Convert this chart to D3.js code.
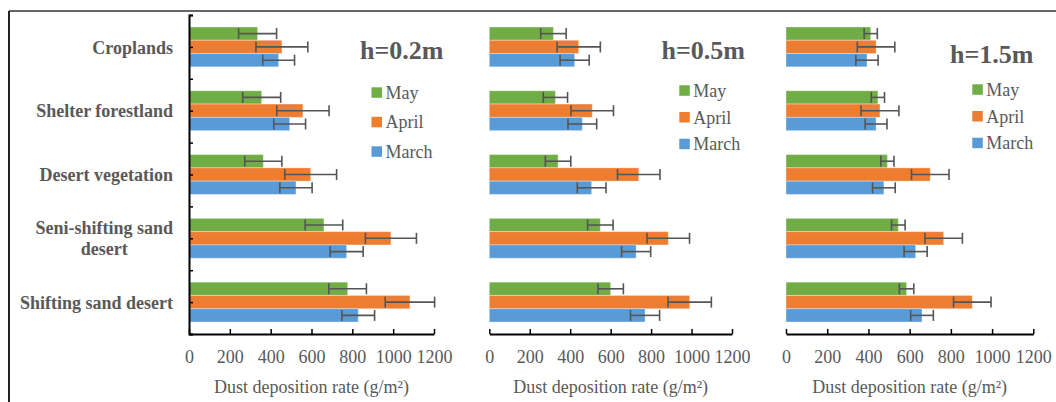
<!DOCTYPE html>
<html>
<head>
<meta charset="utf-8">
<script src="https://cdn.jsdelivr.net/npm/d3@7"></script>
<style>
  body { margin: 0; background: #fff; }
  text { font-family: "Liberation Serif", "Times New Roman", serif; }
</style>
</head>
<body>
<svg id="chart" width="1056" height="402"></svg>
<script>
  // data
  var categories = ["Croplands", "Shelter forestland", "Desert vegetation", "Seni-shifting sand desert", "Shifting sand desert"];
  var labelLines = [["Croplands"], ["Shelter forestland"], ["Desert vegetation"], ["Seni-shifting sand", "desert"], ["Shifting sand desert"]];
  var months  = ["May", "April", "March"];
  var heights = ["h=0.2m", "h=0.5m", "h=1.5m"];
  var xTicks  = [0, 200, 400, 600, 800, 1000, 1200];

  // h = 0.2 m
  var may02   = [336, 356, 364, 661, 777];
  var apr02   = [455, 558, 596, 989, 1082];
  var mar02   = [439, 493, 524, 772, 829];
  var may02E  = [93, 93, 91, 92, 92];
  var apr02E  = [127, 128, 127, 125, 121];
  var mar02E  = [78, 78, 79, 81, 80];
  // h = 0.5 m
  var may05   = [317, 327, 340, 549, 600];
  var apr05   = [442, 509, 739, 885, 991];
  var mar05   = [422, 460, 506, 726, 770];
  var may05E  = [63, 60, 63, 63, 63];
  var apr05E  = [107, 105, 105, 105, 107];
  var mar05E  = [72, 71, 71, 72, 72];
  // h = 1.5 m
  var may15   = [411, 446, 492, 545, 585];
  var apr15   = [437, 456, 700, 765, 904];
  var mar15   = [393, 437, 475, 629, 660];
  var may15E  = [32, 32, 32, 33, 35];
  var apr15E  = [91, 92, 91, 91, 91];
  var mar15E  = [54, 53, 55, 56, 55];

  var colr = {May: "#70AD47", April: "#ED7D31", March: "#5B9BD5"};
  var textCol = "#595959";
  var errCol  = "#555555";

  var panels = [
    {title: heights[0], x0: 189,   x1: 434,    yAxis: true,
     vals: {May: may02, April: apr02, March: mar02}, errs: {May: may02E, April: apr02E, March: mar02E},
     tx: 360, ty: 58.7, lx: 371.5, ly: 87.3, lgap: 29.5},
    {title: heights[1], x0: 489.3, x1: 732,    yAxis: false,
     vals: {May: may05, April: apr05, March: mar05}, errs: {May: may05E, April: apr05E, March: mar05E},
     tx: 661.5, ty: 59, lx: 679.3, ly: 85.3, lgap: 26.7},
    {title: heights[2], x0: 786,   x1: 1033.3, yAxis: false,
     vals: {May: may15, April: apr15, March: mar15}, errs: {May: may15E, April: apr15E, March: mar15E},
     tx: 950, ty: 63.3, lx: 972.3, ly: 84.3, lgap: 26.7}
  ];

  var chart = d3.select("#chart");
  var yTop = 15, yBottom = 334;

  // outer frame
  chart.append("line").attr("x1", 9).attr("y1", 11).attr("x2", 1056).attr("y2", 11)
       .style("stroke", "#333").style("stroke-width", 1.5);
  chart.append("line").attr("x1", 9).attr("y1", 11).attr("x2", 9).attr("y2", 402)
       .style("stroke", "#222").style("stroke-width", 2);

  var y = d3.scaleBand().domain(categories).range([yTop, yBottom]);
  var yInner = d3.scaleBand().domain(months).range([0, y.bandwidth()]).paddingOuter(0.9);

  // category labels
  labelLines.forEach(function(lines, i) {
    var cy = y(categories[i]) + y.bandwidth() / 2;
    var lh = 21;
    var t = chart.append("text").style("font-size", "18px").style("font-weight", "bold")
                 .style("fill", textCol).style("text-anchor", "middle");
    lines.forEach(function(s, k) {
      t.append("tspan").attr("y", cy + 6.6 + (k - (lines.length - 1) / 2) * lh).text(s);
    });
    var w = 0;
    t.selectAll("tspan").each(function() { w = Math.max(w, this.getComputedTextLength()); });
    t.selectAll("tspan").attr("x", 173 - w / 2);
  });

  panels.forEach(function(p) {
    var x = d3.scaleLinear().domain([0, 1200]).range([p.x0, p.x1]);
    var g = chart.append("g");

    // bars
    months.forEach(function(m) {
      var rows = categories.map(function(c, i) { return {c: c, v: p.vals[m][i], e: p.errs[m][i]}; });
      g.selectAll(".bar-" + m).data(rows).enter().append("rect")
        .attr("x", x(0))
        .attr("y", function(d) { return y(d.c) + yInner(m); })
        .attr("width", function(d) { return x(d.v) - x(0); })
        .attr("height", yInner.bandwidth())
        .style("fill", colr[m])
        .style("stroke", "#fff").style("stroke-opacity", 0.35).style("stroke-width", 1);

      // error bars
      rows.forEach(function(d) {
        var cy = y(d.c) + yInner(m) + yInner.bandwidth() / 2;
        var a = x(d.v - d.e), b = x(d.v + d.e);
        g.append("line").attr("x1", a).attr("x2", b).attr("y1", cy).attr("y2", cy)
         .style("stroke", errCol).style("stroke-width", 1.6);
        [a, b].forEach(function(xx) {
          g.append("line").attr("x1", xx).attr("x2", xx).attr("y1", cy - 5.5).attr("y2", cy + 5.5)
           .style("stroke", errCol).style("stroke-width", 1.6);
        });
      });
    });

    // x axis
    var xa = g.append("g").attr("transform", "translate(0," + yBottom + ")")
      .call(d3.axisBottom(x).tickValues(xTicks).tickFormat(d3.format("d"))
              .tickSizeInner(-5).tickSizeOuter(0).tickPadding(16));
    xa.select(".domain").style("stroke", "#000").style("stroke-width", 2);
    xa.selectAll(".tick line").style("stroke", "#000").style("stroke-width", 1.5);
    xa.selectAll(".tick text").style("font-size", "18px").style("fill", textCol)
      .style("font-family", "'Liberation Serif', serif");

    // y axis (first panel only)
    if (p.yAxis) {
      var yl = d3.scaleLinear().domain([0, 5]).range([yTop, yBottom]);
      var ya = g.append("g").attr("transform", "translate(" + x(0) + ",0)")
        .call(d3.axisRight(yl).tickValues(d3.range(0, 5.01, 0.5)).tickSize(4).tickFormat(""));
      ya.select(".domain").style("stroke", "#000").style("stroke-width", 2);
      ya.selectAll(".tick line").style("stroke", "#000").style("stroke-width", 1.5);
    }

    // axis title
    g.append("text").attr("x", (p.x0 + p.x1) / 2).attr("y", 393)
     .style("text-anchor", "middle").style("font-size", "18px").style("fill", textCol)
     .text("Dust deposition rate (g/m\u00B2)");

    // panel title
    g.append("text").attr("x", p.tx).attr("y", p.ty)
     .style("font-size", "26px").style("font-weight", "bold").style("fill", textCol)
     .text(p.title);

    // legend
    months.forEach(function(m, k) {
      var ly = p.ly + k * p.lgap;
      g.append("rect").attr("x", p.lx).attr("y", ly).attr("width", 10.5).attr("height", 10.5)
       .style("fill", colr[m]);
      g.append("text").attr("x", p.lx + 14).attr("y", ly + 11.5)
       .style("font-size", "18px").style("fill", textCol).text(m);
    });
  });
</script>
</body>
</html>
